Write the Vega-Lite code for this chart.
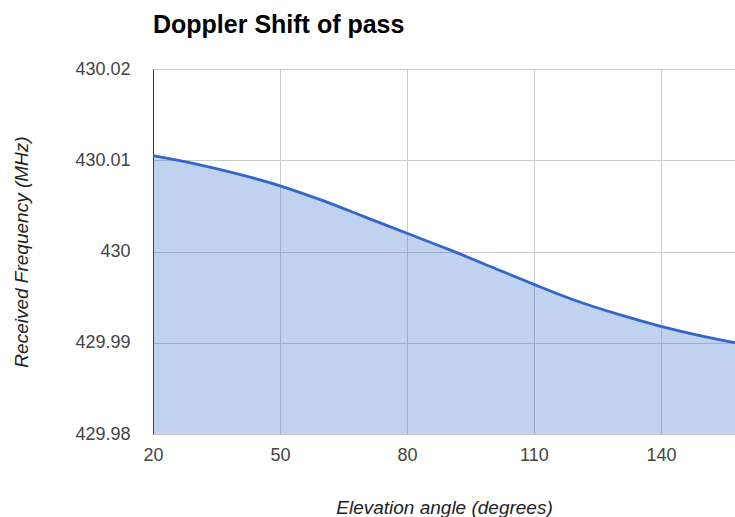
{
  "$schema": "https://vega.github.io/schema/vega-lite/v6.json",
  "width": 582,
  "height": 365,
  "autosize": {"type": "none"},
  "padding": {"left": 153, "top": 69, "right": 0, "bottom": 83},
  "background": "white",
  "title": {
    "text": "Doppler Shift of pass",
    "anchor": "start",
    "frame": "group",
    "font": "Liberation Sans",
    "fontSize": 25,
    "fontWeight": "bold",
    "color": "#000000",
    "baseline": "alphabetic",
    "offset": 2
  },
  "config": {
    "view": {"stroke": null},
    "axis": {
      "labelFont": "Liberation Sans",
      "labelFontSize": 18,
      "labelColor": "#444444",
      "titleFont": "Liberation Sans",
      "titleFontSize": 19,
      "titleFontStyle": "italic",
      "titleFontWeight": "normal",
      "titleColor": "#222222",
      "gridColor": "#cccccc",
      "gridOpacity": 1,
      "ticks": false
    }
  },
  "data": {
    "values": [
      {"elev": 20, "freq": 430.0105},
      {"elev": 30, "freq": 430.0096},
      {"elev": 40, "freq": 430.0085},
      {"elev": 50, "freq": 430.0072},
      {"elev": 60, "freq": 430.0056},
      {"elev": 70, "freq": 430.0038},
      {"elev": 80, "freq": 430.002},
      {"elev": 90, "freq": 430.0002},
      {"elev": 100, "freq": 429.9983},
      {"elev": 110, "freq": 429.9964},
      {"elev": 120, "freq": 429.9946},
      {"elev": 130, "freq": 429.9931},
      {"elev": 140, "freq": 429.9918},
      {"elev": 150, "freq": 429.9907},
      {"elev": 160, "freq": 429.9898}
    ]
  },
  "encoding": {
    "x": {
      "field": "elev",
      "type": "quantitative",
      "scale": {"domain": [20, 157.5], "nice": false, "zero": false},
      "axis": {
        "values": [20, 50, 80, 110, 140],
        "format": "d",
        "domain": false,
        "labelFlush": false,
        "labelPadding": 12,
        "title": "Elevation angle (degrees)",
        "titlePadding": 34
      }
    },
    "y": {
      "field": "freq",
      "type": "quantitative",
      "scale": {"domain": [429.98, 430.02], "nice": false, "zero": false},
      "axis": {
        "values": [429.98, 429.99, 430, 430.01, 430.02],
        "format": ".2~f",
        "domain": true,
        "domainColor": "#333333",
        "domainWidth": 1,
        "labelFlush": false,
        "labelPadding": 23,
        "title": "Received Frequency (MHz)",
        "titlePadding": 43
      }
    }
  },
  "layer": [
    {
      "mark": {"type": "area", "interpolate": "monotone", "color": "#3366cc", "opacity": 0.3, "clip": true},
      "encoding": {"y2": {"datum": 429.98}}
    },
    {
      "mark": {"type": "line", "interpolate": "monotone", "color": "#3366cc", "strokeWidth": 2.8, "clip": true},
      "encoding": {}
    }
  ]
}
